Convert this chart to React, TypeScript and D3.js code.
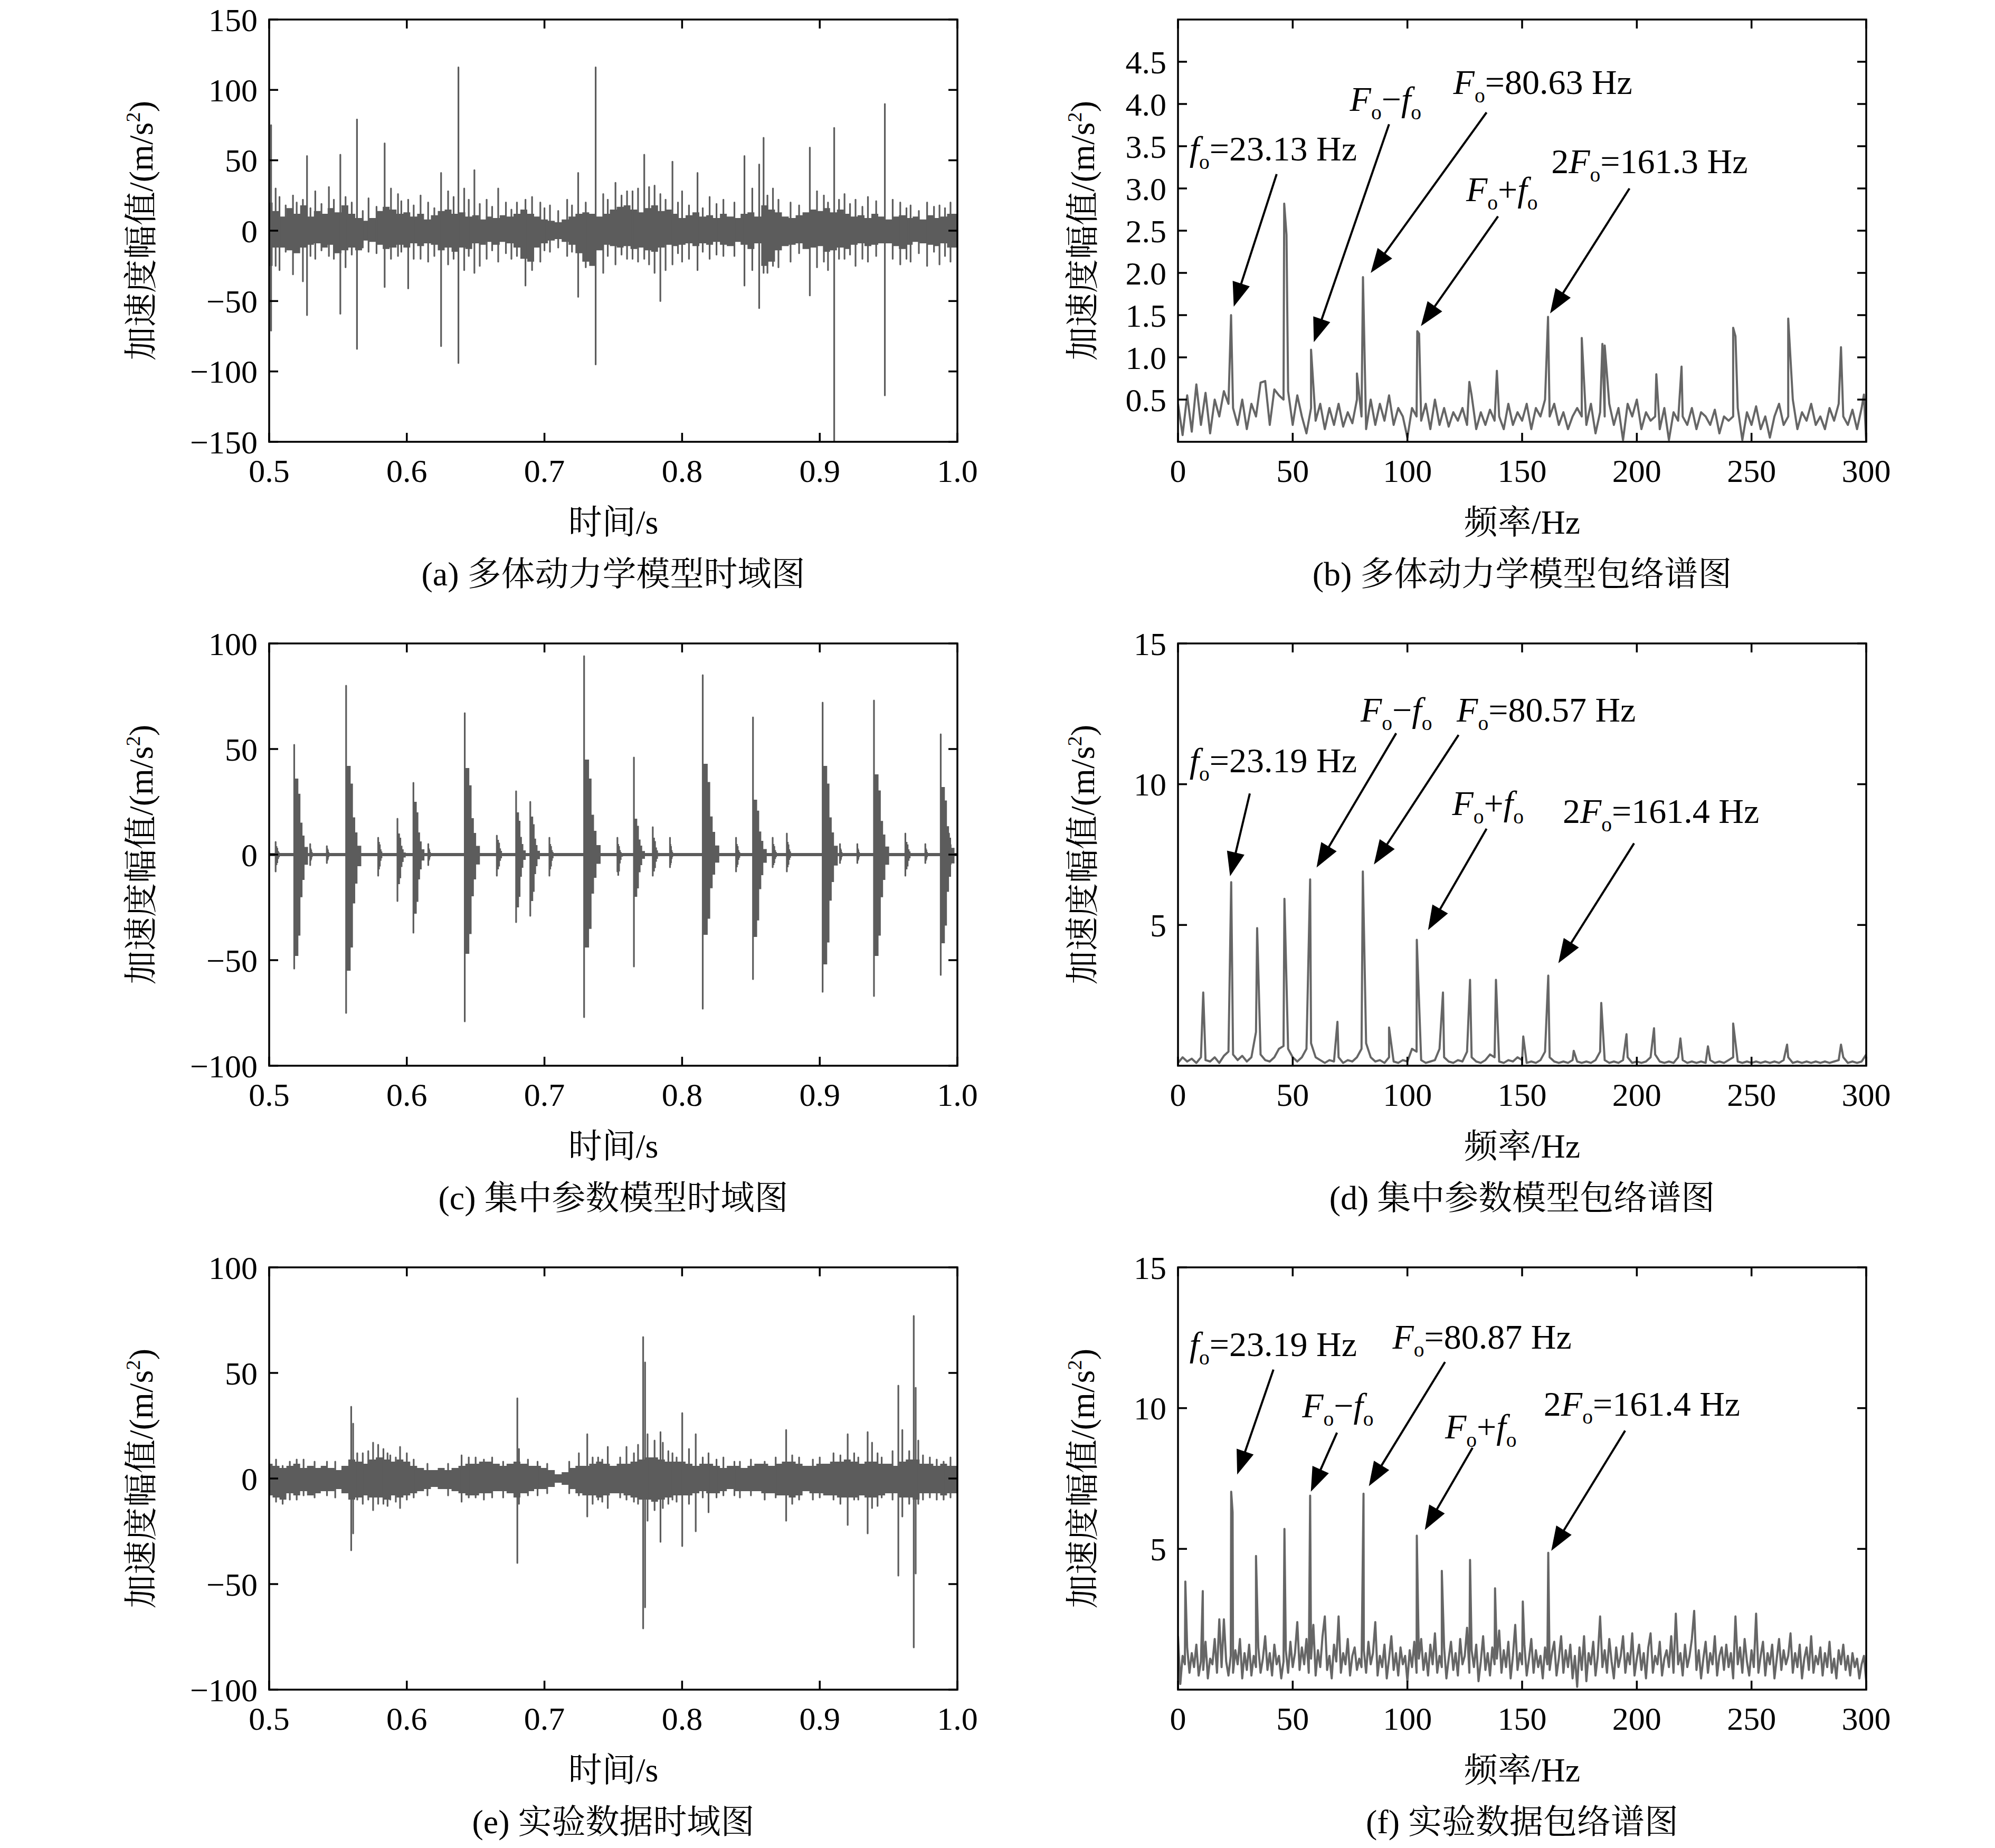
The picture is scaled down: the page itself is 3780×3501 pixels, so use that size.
import * as d3 from 'd3';

// ---- layout ----
const W = 3780;
const H = 3501;
const PW = 1304;
const PH = 800;
const COL_X = [510, 2232];
const ROW_Y = [37, 1219, 2401];
const FONT = "'Liberation Serif','Times New Roman','Noto Serif CJK SC','Noto Sans CJK SC',serif";
const TIME_COLOR = '#5c5c5c';
const SPEC_COLOR = '#666666';

// ---- ticks ----
const timeTicks = [0.5, 0.6, 0.7, 0.8, 0.9, 1.0];
const freqTicks = [0, 50, 100, 150, 200, 250, 300];
const aYTicks = [-150, -100, -50, 0, 50, 100, 150];
const ceYTicks = [-100, -50, 0, 50, 100];
const bYTicks = [0.5, 1.0, 1.5, 2.0, 2.5, 3.0, 3.5, 4.0, 4.5];
const dfYTicks = [5, 10, 15];

// ---- (a) multibody time signal: dense band [t, hi, lo] and spikes [t, hi, lo] ----
const aBand: [number, number, number][] = [
  [0.500, 20, -25], [0.505, 14, -12], [0.510, 10, -12], [0.515, 16, -14], [0.520, 12, -16],
  [0.525, 18, -12], [0.530, 10, -10], [0.535, 14, -9], [0.540, 12, -12], [0.545, 16, -10],
  [0.550, 13, -16], [0.555, 18, -14], [0.560, 12, -12], [0.565, 9, -14], [0.570, 7, -7],
  [0.575, 9, -8], [0.580, 14, -10], [0.585, 17, -13], [0.590, 15, -12], [0.595, 12, -10],
  [0.600, 13, -12], [0.605, 10, -9], [0.610, 12, -11], [0.615, 8, -9], [0.620, 11, -10],
  [0.625, 14, -14], [0.630, 15, -12], [0.635, 12, -15], [0.640, 13, -12], [0.645, 10, -13],
  [0.650, 11, -9], [0.655, 8, -10], [0.660, 10, -8], [0.665, 9, -10], [0.670, 11, -8],
  [0.675, 10, -9], [0.680, 12, -12], [0.685, 15, -20], [0.690, 12, -22], [0.695, 10, -12],
  [0.700, 8, -9], [0.705, 7, -7], [0.710, 6, -6], [0.715, 8, -8], [0.720, 10, -10],
  [0.725, 12, -16], [0.730, 13, -22], [0.735, 12, -25], [0.740, 10, -14], [0.745, 12, -10],
  [0.750, 15, -11], [0.755, 17, -12], [0.760, 18, -11], [0.765, 15, -13], [0.770, 13, -12],
  [0.775, 16, -14], [0.780, 18, -15], [0.785, 14, -12], [0.790, 15, -10], [0.795, 12, -11],
  [0.800, 9, -10], [0.805, 11, -9], [0.810, 13, -11], [0.815, 10, -9], [0.820, 11, -10],
  [0.825, 9, -8], [0.830, 12, -10], [0.835, 10, -11], [0.840, 9, -8], [0.845, 12, -10],
  [0.850, 13, -13], [0.855, 10, -9], [0.860, 18, -25], [0.865, 15, -22], [0.870, 13, -14],
  [0.875, 10, -11], [0.880, 9, -10], [0.885, 11, -9], [0.890, 13, -13], [0.895, 15, -12],
  [0.900, 14, -11], [0.905, 16, -15], [0.910, 13, -14], [0.915, 15, -12], [0.920, 12, -13],
  [0.925, 10, -10], [0.930, 11, -9], [0.935, 9, -11], [0.940, 12, -10], [0.945, 10, -9],
  [0.950, 8, -9], [0.955, 10, -11], [0.960, 11, -13], [0.965, 9, -10], [0.970, 10, -8],
  [0.975, 8, -9], [0.980, 11, -10], [0.985, 9, -11], [0.990, 10, -9], [0.995, 12, -12],
  [1.000, 12, -12],
];
const aSpikes: [number, number, number][] = [
  [0.5014, 75, -71], [0.5047, 30, -25], [0.5075, 24, -28], [0.5120, 18, -15], [0.5173, 25, -31],
  [0.5200, 20, -12], [0.5245, 22, -36], [0.5275, 53, -60], [0.5300, 16, -18], [0.5335, 28, -20],
  [0.5380, 19, -14], [0.5434, 31, -18], [0.5470, 22, -20], [0.5517, 54, -59], [0.5555, 24, -26],
  [0.5600, 20, -17], [0.5638, 79, -84], [0.5680, 14, -12], [0.5722, 23, -15], [0.5780, 17, -16],
  [0.5839, 62, -40], [0.5885, 30, -20], [0.5936, 26, -18], [0.5960, 21, -15], [0.6010, 22, -41],
  [0.6050, 18, -20], [0.6100, 25, -20], [0.6155, 20, -22], [0.6200, 16, -18], [0.6249, 41, -82],
  [0.6300, 28, -24], [0.6340, 24, -20], [0.6375, 116, -94], [0.6417, 30, -28], [0.6450, 22, -18],
  [0.6491, 43, -30], [0.6530, 19, -25], [0.6580, 22, -20], [0.6620, 17, -14], [0.6664, 30, -22],
  [0.6720, 20, -16], [0.6760, 15, -20], [0.6800, 20, -18], [0.6862, 22, -39], [0.6910, 24, -28],
  [0.6970, 20, -22], [0.7000, 16, -14], [0.7040, 18, -15], [0.7100, 14, -12], [0.7165, 22, -18],
  [0.7200, 18, -15], [0.7245, 41, -47], [0.7300, 20, -26], [0.7372, 116, -95], [0.7427, 26, -30],
  [0.7460, 22, -18], [0.7516, 34, -24], [0.7560, 25, -17], [0.7600, 28, -20], [0.7640, 28, -20],
  [0.7680, 30, -22], [0.7725, 54, -20], [0.7760, 31, -24], [0.7800, 32, -30], [0.7842, 26, -50],
  [0.7880, 22, -28], [0.7930, 49, -24], [0.7970, 20, -16], [0.8000, 28, -22], [0.8050, 18, -20],
  [0.8112, 41, -28], [0.8150, 16, -15], [0.8200, 24, -20], [0.8250, 19, -17], [0.8300, 22, -18],
  [0.8380, 20, -18], [0.8453, 53, -39], [0.8510, 30, -28], [0.8560, 47, -55], [0.8592, 66, -30],
  [0.8620, 25, -30], [0.8660, 30, -25], [0.8700, 22, -26], [0.8788, 20, -22], [0.8850, 18, -16],
  [0.8928, 59, -46], [0.8980, 28, -26], [0.9030, 25, -22], [0.9060, 20, -28], [0.9105, 73, -160],
  [0.9140, 22, -20], [0.9180, 26, -20], [0.9220, 19, -17], [0.9260, 22, -25], [0.9310, 17, -20],
  [0.9350, 24, -22], [0.9410, 21, -18], [0.9473, 90, -117], [0.9530, 22, -20], [0.9585, 20, -24],
  [0.9630, 16, -20], [0.9660, 18, -22], [0.9720, 14, -16], [0.9780, 20, -25], [0.9830, 17, -15],
  [0.9870, 18, -24], [0.9910, 16, -18], [0.9950, 20, -22],
];

// ---- (c) lumped model: bursts [t, peakHi, peakLo, envHi, envLo, decay(s)] ----
const cBursts: [number, number, number, number, number, number][] = [
  [0.5047, 6, -8, 4, -5, 0.004], [0.5182, 52, -54, 36, -48, 0.010], [0.5298, 5, -5, 3, -3, 0.003],
  [0.5419, 4, -4, 3, -3, 0.003], [0.5559, 80, -75, 42, -55, 0.011], [0.5792, 8, -10, 6, -7, 0.004],
  [0.5932, 17, -22, 10, -14, 0.006], [0.6048, 34, -37, 25, -28, 0.008], [0.6156, 5, -5, 3, -3, 0.003],
  [0.6421, 67, -79, 41, -47, 0.011], [0.6654, 9, -10, 7, -7, 0.005], [0.6794, 30, -32, 20, -25, 0.007],
  [0.6897, 25, -29, 18, -22, 0.007], [0.7036, 8, -10, 5, -7, 0.004], [0.7288, 94, -77, 45, -44, 0.012],
  [0.7530, 8, -8, 5, -10, 0.004], [0.7650, 46, -53, 17, -20, 0.008], [0.7787, 13, -10, 8, -8, 0.005],
  [0.7912, 8, -6, 5, -5, 0.003], [0.8150, 85, -73, 43, -38, 0.012], [0.8392, 8, -8, 5, -6, 0.004],
  [0.8515, 65, -59, 26, -39, 0.010], [0.8658, 8, -6, 5, -5, 0.004], [0.8761, 10, -8, 6, -6, 0.004],
  [0.9021, 72, -65, 42, -52, 0.011], [0.9147, 5, -4, 3, -3, 0.003], [0.9273, 5, -4, 3, -3, 0.003],
  [0.9394, 73, -67, 38, -48, 0.011], [0.9622, 10, -10, 6, -7, 0.005], [0.9767, 5, -4, 3, -3, 0.003],
  [0.9879, 57, -57, 32, -42, 0.010], [0.9939, 10, -8, 6, -6, 0.004],
];
// staircase decay of a burst: [fraction of decay time, fraction of envelope]
const burstSteps: [number, number][] = [[0, 1], [0.3, 0.8], [0.45, 0.42], [0.6, 0.25], [0.75, 0.1], [1, 0]];

// ---- (e) experiment time signal ----
const eBand: [number, number, number][] = [
  [0.500, 7, -8], [0.505, 6, -9], [0.510, 5, -10], [0.515, 6, -7], [0.520, 7, -8],
  [0.525, 5, -6], [0.530, 6, -8], [0.535, 5, -7], [0.540, 6, -6], [0.545, 5, -6],
  [0.550, 4, -5], [0.555, 6, -7], [0.560, 9, -10], [0.565, 8, -9], [0.570, 7, -8],
  [0.575, 9, -9], [0.580, 10, -9], [0.585, 9, -10], [0.590, 8, -8], [0.595, 9, -9],
  [0.600, 8, -8], [0.605, 6, -7], [0.610, 5, -6], [0.615, 4, -5], [0.620, 4, -4],
  [0.625, 5, -5], [0.630, 4, -5], [0.635, 5, -6], [0.640, 6, -7], [0.645, 7, -8],
  [0.650, 7, -8], [0.655, 8, -7], [0.660, 8, -7], [0.665, 7, -6], [0.670, 6, -6],
  [0.675, 7, -7], [0.680, 8, -9], [0.685, 7, -7], [0.690, 6, -6], [0.695, 6, -5],
  [0.700, 5, -5], [0.705, 4, -4], [0.710, 2, -2], [0.715, 3, -3], [0.720, 5, -5],
  [0.725, 6, -7], [0.730, 6, -8], [0.735, 7, -8], [0.740, 8, -9], [0.745, 7, -8],
  [0.750, 6, -7], [0.755, 7, -7], [0.760, 7, -8], [0.765, 8, -9], [0.770, 9, -10],
  [0.775, 10, -10], [0.780, 10, -11], [0.785, 9, -10], [0.790, 8, -9], [0.795, 8, -8],
  [0.800, 8, -8], [0.805, 7, -8], [0.810, 6, -7], [0.815, 7, -6], [0.820, 7, -7],
  [0.825, 6, -7], [0.830, 5, -6], [0.835, 6, -5], [0.840, 6, -6], [0.845, 5, -6],
  [0.850, 6, -6], [0.855, 7, -6], [0.860, 7, -7], [0.865, 6, -7], [0.870, 7, -8],
  [0.875, 8, -8], [0.880, 8, -9], [0.885, 7, -8], [0.890, 6, -6], [0.895, 6, -7],
  [0.900, 7, -7], [0.905, 7, -8], [0.910, 8, -8], [0.915, 8, -9], [0.920, 9, -9],
  [0.925, 8, -9], [0.930, 7, -8], [0.935, 8, -9], [0.940, 8, -9], [0.945, 7, -8],
  [0.950, 7, -7], [0.955, 6, -7], [0.960, 8, -9], [0.965, 9, -9], [0.970, 9, -10],
  [0.975, 7, -7], [0.980, 7, -7], [0.985, 6, -7], [0.990, 7, -8], [0.995, 6, -7],
  [1.000, 6, -7],
];
const eSpikes: [number, number, number][] = [
  [0.5050, 9, -11], [0.5098, 6, -12], [0.5150, 8, -10], [0.5200, 9, -10], [0.5250, 9, -8],
  [0.5330, 8, -9], [0.5420, 8, -8], [0.5480, 8, -9], [0.5596, 34, -34], [0.5610, 26, -26],
  [0.5640, 12, -10], [0.5680, 12, -12], [0.5720, 13, -10], [0.5755, 17, -15], [0.5792, 16, -12],
  [0.5830, 14, -12], [0.5860, 12, -13], [0.5880, 11, -10], [0.5920, 10, -11], [0.5951, 15, -14],
  [0.6000, 12, -10], [0.6050, 9, -9], [0.6150, 7, -8], [0.6300, 7, -8], [0.6398, 11, -11],
  [0.6450, 10, -9], [0.6500, 10, -9], [0.6560, 9, -10], [0.6620, 10, -9], [0.6700, 8, -9],
  [0.6803, 38, -40], [0.6815, 14, -12], [0.6880, 9, -8], [0.6950, 8, -8], [0.7020, 7, -7],
  [0.7180, 8, -7], [0.7250, 12, -8], [0.7311, 21, -18], [0.7350, 10, -12], [0.7390, 10, -10],
  [0.7420, 9, -11], [0.7460, 15, -14], [0.7550, 10, -9], [0.7596, 15, -10], [0.7650, 12, -11],
  [0.7680, 16, -12], [0.7717, 67, -71], [0.7731, 55, -61], [0.7749, 21, -20], [0.7800, 18, -15],
  [0.7843, 22, -30], [0.7860, 17, -14], [0.7900, 13, -12], [0.7930, 12, -10], [0.7960, 10, -11],
  [0.8001, 31, -32], [0.8050, 14, -12], [0.8099, 21, -25], [0.8150, 10, -9], [0.8192, 12, -16],
  [0.8250, 9, -9], [0.8300, 10, -8], [0.8380, 8, -8], [0.8420, 8, -9], [0.8500, 9, -8],
  [0.8600, 8, -10], [0.8680, 10, -9], [0.8756, 23, -20], [0.8800, 11, -12], [0.8850, 10, -10],
  [0.8950, 9, -10], [0.9000, 10, -9], [0.9100, 12, -10], [0.9150, 11, -12], [0.9203, 21, -22],
  [0.9250, 12, -10], [0.9280, 10, -10], [0.9348, 22, -26], [0.9380, 17, -14], [0.9420, 12, -13],
  [0.9450, 10, -9], [0.9529, 13, -10], [0.9571, 44, -46], [0.9600, 23, -18], [0.9650, 13, -12],
  [0.9683, 77, -80], [0.9697, 43, -45], [0.9716, 18, -12], [0.9750, 11, -10], [0.9800, 10, -9],
  [0.9850, 9, -10], [0.9900, 8, -10], [0.9950, 10, -9],
];

// ---- spectra: noise floor on a regular grid + discrete peaks [Hz, amp] ----
const bStep = 2;
const bNoise = [
  0.45, 0.08, 0.55, 0.12, 0.68, 0.20, 0.58, 0.10, 0.50, 0.30,
  0.60, 0.45, 0.40, 0.20, 0.50, 0.15, 0.45, 0.30, 0.70, 0.72,
  0.20, 0.62, 0.55, 0.50, 0.60, 0.20, 0.55, 0.30, 0.10, 0.40,
  0.25, 0.45, 0.15, 0.40, 0.20, 0.45, 0.18, 0.35, 0.22, 0.50,
  0.30, 0.15, 0.50, 0.20, 0.45, 0.25, 0.55, 0.20, 0.40, 0.30,
  0.05, 0.40, 0.30, 0.25, 0.45, 0.15, 0.50, 0.20, 0.40, 0.18,
  0.35, 0.25, 0.40, 0.20, 0.55, 0.15, 0.35, 0.20, 0.38, 0.25,
  0.30, 0.15, 0.45, 0.20, 0.35, 0.25, 0.45, 0.15, 0.40, 0.30,
  0.50, 0.30, 0.45, 0.20, 0.35, 0.15, 0.30, 0.40, 0.30, 0.20,
  0.45, 0.10, 0.35, 0.30, 0.45, 0.20, 0.40, 0.02, 0.45, 0.30,
  0.50, 0.15, 0.35, 0.25, 0.30, 0.15, 0.40, 0.02, 0.35, 0.25,
  0.30, 0.20, 0.40, 0.15, 0.35, 0.30, 0.20, 0.38, 0.10, 0.30,
  0.25, 0.30, 0.40, 0.02, 0.35, 0.20, 0.42, 0.15, 0.30, 0.05,
  0.30, 0.45, 0.20, 0.30, 0.50, 0.15, 0.35, 0.25, 0.45, 0.20,
  0.30, 0.15, 0.40, 0.25, 0.45, 0.30, 0.20, 0.38, 0.15, 0.40,
  0.00,
];
const bPeaks: [number, number][] = [
  [23.13, 1.50], [46.3, 2.82], [47.3, 2.45], [58.0, 1.09], [78.0, 0.81], [80.63, 1.95],
  [104.3, 1.31], [105.1, 1.28], [127.0, 0.71], [139.0, 0.84], [161.3, 1.48], [176.0, 1.23],
  [185.0, 1.16], [186.0, 1.14], [208.5, 0.80], [219.5, 0.89], [242.0, 1.35], [243.0, 1.25],
  [266.0, 1.46], [289.0, 1.12], [299.0, 0.56],
];

const dStep = 2;
const dNoise = [
  0.10, 0.30, 0.15, 0.25, 0.10, 0.30, 0.20, 0.15, 0.30, 0.10,
  0.35, 0.50, 0.40, 0.20, 0.35, 0.15, 0.30, 1.20, 0.40, 0.20,
  0.15, 0.30, 0.60, 0.70, 0.60, 0.30, 0.15, 0.30, 0.60, 0.80,
  0.30, 0.20, 0.10, 0.20, 0.15, 0.30, 0.10, 0.20, 0.15, 0.30,
  0.60, 0.80, 0.30, 0.15, 0.20, 0.10, 0.30, 0.15, 0.10, 0.20,
  0.15, 0.60, 0.50, 0.20, 0.10, 0.15, 0.20, 0.60, 0.30, 0.15,
  0.10, 0.20, 0.15, 0.50, 0.30, 0.15, 0.10, 0.20, 0.40, 0.30,
  0.15, 0.10, 0.20, 0.15, 0.30, 0.20, 0.10, 0.15, 0.10, 0.20,
  0.50, 0.30, 0.15, 0.10, 0.15, 0.10, 0.20, 0.15, 0.10, 0.15,
  0.10, 0.20, 0.50, 0.20, 0.10, 0.15, 0.10, 0.20, 0.30, 0.10,
  0.15, 0.10, 0.15, 0.30, 0.40, 0.15, 0.10, 0.15, 0.10, 0.30,
  0.20, 0.10, 0.15, 0.10, 0.15, 0.10, 0.20, 0.10, 0.15, 0.10,
  0.20, 0.30, 0.15, 0.10, 0.15, 0.10, 0.15, 0.10, 0.15, 0.10,
  0.15, 0.10, 0.20, 0.30, 0.10, 0.15, 0.10, 0.15, 0.10, 0.15,
  0.10, 0.15, 0.10, 0.15, 0.20, 0.30, 0.10, 0.15, 0.10, 0.15,
  0.40,
];
const dPeaks: [number, number][] = [
  [11.0, 2.60], [23.19, 6.52], [34.5, 4.89], [46.4, 5.93], [57.6, 6.62], [69.5, 1.56],
  [80.57, 6.90], [92.0, 1.36], [104.1, 4.47], [115.5, 2.60], [127.3, 3.05], [138.6, 3.05],
  [150.5, 1.04], [161.4, 3.20], [172.5, 0.53], [184.5, 2.23], [195.5, 1.12], [207.5, 1.33],
  [219.0, 0.97], [231.0, 0.69], [242.0, 1.50], [265.5, 0.75], [289.0, 0.75],
];

const fStep = 1;
const fNoise = [
  1.9, 0.2, 1.2, 0.9, 1.5, 0.6, 1.3, 0.8, 1.6, 0.5,
  1.0, 0.7, 1.7, 0.4, 1.1, 0.9, 1.8, 0.6, 2.5, 0.8,
  2.5, 1.0, 0.5, 1.2, 0.6, 1.4, 0.9, 1.8, 0.4, 1.3,
  0.7, 1.6, 0.5, 1.2, 0.8, 1.5, 0.6, 1.1, 1.9, 0.7,
  1.3, 0.5, 1.6, 0.9, 1.2, 0.4, 1.0, 1.4, 0.6, 1.7,
  0.8, 1.3, 2.4, 0.7, 1.5, 0.9, 1.8, 0.6, 1.1, 2.3,
  0.5, 1.4, 0.8, 1.9, 2.6, 0.7, 1.2, 0.4, 1.6, 1.0,
  2.6, 0.6, 1.3, 0.9, 1.8, 0.5, 1.2, 1.5, 0.7, 1.1,
  0.8, 1.4, 0.6, 1.7, 0.9, 1.3, 2.4, 0.5, 1.2, 0.8,
  1.6, 0.4, 1.1, 1.9, 0.7, 1.3, 0.5, 1.5, 0.9, 1.2,
  0.3, 1.4, 0.8, 1.7, 0.6, 1.1, 1.8, 0.7, 1.3, 0.5,
  1.6, 0.9, 2.0, 0.6, 1.2, 0.8, 1.5, 0.4, 1.1, 1.7,
  0.7, 1.3, 0.5, 1.8, 0.9, 1.2, 2.2, 0.6, 1.4, 0.8,
  1.6, 0.3, 1.0, 1.9, 0.7, 1.3, 0.5, 1.5, 0.9, 1.1,
  2.1, 0.6, 1.4, 0.8, 1.7, 0.4, 1.2, 2.3, 0.7, 1.3,
  0.9, 1.6, 0.5, 1.1, 1.8, 0.6, 1.4, 0.8, 1.2, 0.4,
  1.5, 0.9, 0.7, 1.3, 1.7, 0.5, 1.1, 1.9, 0.6, 1.4,
  0.8, 1.6, 0.4, 1.2, 0.1, 1.5, 0.7, 1.9, 0.3, 1.3,
  0.9, 1.7, 0.5, 1.2, 2.6, 0.8, 1.4, 0.6, 1.8, 1.0,
  0.4, 1.5, 0.8, 1.2, 1.9, 0.6, 1.3, 0.9, 2.0, 0.5,
  1.1, 1.6, 0.7, 1.3, 0.4, 1.5, 2.0, 0.6, 1.2, 0.9,
  1.7, 0.5, 1.1, 1.4, 0.8, 1.9, 0.6, 2.7, 0.9, 1.3,
  0.5, 1.6, 0.8, 1.2, 1.8, 2.8, 0.7, 1.4, 0.4, 1.1,
  1.7, 0.6, 1.3, 0.9, 1.9, 0.5, 1.2, 1.5, 0.7, 1.6,
  0.8, 1.3, 0.4, 2.6, 0.9, 1.5, 0.6, 1.8, 1.0, 0.5,
  1.4, 0.8, 2.7, 0.6, 1.2, 1.7, 0.5, 1.3, 0.9, 1.6,
  0.4, 1.1, 1.8, 0.7, 1.4, 0.9, 1.2, 2.0, 0.6, 1.3,
  0.8, 1.6, 0.4, 1.1, 1.5, 0.7, 1.9, 0.6, 1.2, 0.9,
  1.5, 0.5, 1.3, 0.8, 1.7, 0.6, 1.1, 0.4, 1.4, 0.9,
  1.6, 0.7, 1.2, 0.5, 1.3, 0.8, 1.1, 0.4, 0.9, 1.2,
  0.3,
];
const fPeaks: [number, number][] = [
  [3.2, 3.84], [10.8, 3.50], [23.19, 7.03], [23.8, 6.30], [34.0, 4.75], [46.4, 5.71],
  [57.6, 6.89], [80.87, 6.96], [104.1, 5.47], [115.0, 4.22], [127.3, 4.61], [138.2, 3.60],
  [150.3, 3.13], [161.4, 4.86],
];

// ---- annotations: text segments (n normal, i italic, s subscript), text anchor, arrow from/to ----
type Seg = [string, 'n' | 'i' | 's'];
interface Note { segs: Seg[]; at: [number, number]; from: [number, number]; to: [number, number]; }

const fLabel = (v: string): Seg[] => [['f', 'i'], ['o', 's'], [`=${v} Hz`, 'n']];
const FLabel = (v: string): Seg[] => [['F', 'i'], ['o', 's'], [`=${v} Hz`, 'n']];
const minusLabel: Seg[] = [['F', 'i'], ['o', 's'], ['−', 'n'], ['f', 'i'], ['o', 's']];
const plusLabel: Seg[] = [['F', 'i'], ['o', 's'], ['+', 'n'], ['f', 'i'], ['o', 's']];
const twoFLabel = (v: string): Seg[] => [['2', 'n'], ['F', 'i'], ['o', 's'], [`=${v} Hz`, 'n']];

const bNotes: Note[] = [
  { segs: fLabel('23.13'), at: [5, 3.33], from: [43.0, 3.17], to: [24.3, 1.60] },
  { segs: minusLabel, at: [74.9, 3.92], from: [92.0, 3.76], to: [59.2, 1.18] },
  { segs: FLabel('80.63'), at: [120.0, 4.12], from: [134.5, 3.90], to: [84.0, 2.00] },
  { segs: plusLabel, at: [125.6, 2.85], from: [139.5, 2.67], to: [105.9, 1.37] },
  { segs: twoFLabel('161.3'), at: [162.7, 3.18], from: [196.8, 3.00], to: [162.2, 1.52] },
];
const dNotes: Note[] = [
  { segs: fLabel('23.19'), at: [5, 10.43], from: [31.3, 9.67], to: [22.7, 6.73] },
  { segs: minusLabel, at: [79.6, 12.23], from: [95.1, 11.81], to: [60.4, 7.04] },
  { segs: FLabel('80.57'), at: [121.5, 12.23], from: [122.3, 11.75], to: [85.4, 7.15] },
  { segs: plusLabel, at: [119.5, 8.90], from: [134.5, 8.42], to: [109.0, 4.82] },
  { segs: twoFLabel('161.4'), at: [167.7, 8.63], from: [198.8, 7.90], to: [165.8, 3.64] },
];
const fNotes: Note[] = [
  { segs: fLabel('23.19'), at: [5, 11.85], from: [41.6, 11.37], to: [25.8, 7.64] },
  { segs: minusLabel, at: [54.1, 9.67], from: [69.3, 9.13], to: [57.9, 7.03] },
  { segs: FLabel('80.87'), at: [93.5, 12.12], from: [116.4, 11.64], to: [83.2, 7.23] },
  { segs: plusLabel, at: [116.4, 8.93], from: [128.4, 8.59], to: [107.6, 5.67] },
  { segs: twoFLabel('161.4'), at: [159.4, 9.74], from: [194.9, 9.20], to: [162.7, 4.93] },
];

const captions = [
  '(a) 多体动力学模型时域图', '(b) 多体动力学模型包络谱图',
  '(c) 集中参数模型时域图', '(d) 集中参数模型包络谱图',
  '(e) 实验数据时域图', '(f) 实验数据包络谱图',
];

// ---- helpers ----
const signed = (v: number) => (v < 0 ? `−${Math.abs(v)}` : `${v}`);
const fmt1 = d3.format('.1f');

function specPoints(noise: number[], step: number, peaks: [number, number][]) {
  const pts: [number, number][] = noise.map((v, i) => [i * step, v]);
  return pts.concat(peaks).sort((p, q) => p[0] - q[0]);
}

function RichText({ x, y, segs, size }: { x: number; y: number; segs: Seg[]; size: number }) {
  let shift = 0;
  const sub = size * 0.24;
  return (
    <text x={x} y={y} fontSize={size}>
      {segs.map(([t, k], i) => {
        let dy = 0;
        if (k === 's') { dy = sub - shift; shift = sub; }
        else if (shift) { dy = -shift; shift = 0; }
        return (
          <tspan key={i} dy={dy} fontStyle={k === 'i' ? 'italic' : 'normal'} fontSize={k === 's' ? size * 0.6 : size}>
            {t}
          </tspan>
        );
      })}
    </text>
  );
}

function Arrow({ x1, y1, x2, y2 }: { x1: number; y1: number; x2: number; y2: number }) {
  const dx = x2 - x1, dy = y2 - y1;
  const len = Math.hypot(dx, dy);
  const ux = dx / len, uy = dy / len;
  const hl = 46, hw = 17;
  const bx = x2 - ux * hl, by = y2 - uy * hl;
  const head = [[x2, y2], [bx - uy * hw, by + ux * hw], [bx + uy * hw, by - ux * hw]];
  return (
    <g>
      <line x1={x1} y1={y1} x2={bx + ux * 4} y2={by + uy * 4} stroke="#000" strokeWidth={4} />
      <polygon points={head.map(p => p.join(',')).join(' ')} fill="#000" />
    </g>
  );
}

interface PanelProps {
  id: string;
  x0: number;
  y0: number;
  xDomain: [number, number];
  yDomain: [number, number];
  xTicks: number[];
  yTicks: number[];
  xFmt: (v: number) => string;
  yFmt: (v: number) => string;
  xTitle: string;
  caption: string;
  yTitleOffset: number;
  children: (x: d3.ScaleLinear<number, number>, y: d3.ScaleLinear<number, number>) => any;
}

function Panel(p: PanelProps) {
  const x = d3.scaleLinear().domain(p.xDomain).range([0, PW]);
  const y = d3.scaleLinear().domain(p.yDomain).range([PH, 0]);
  const tl = 17;
  const fs = 62;
  const ts = 64;
  return (
    <g transform={`translate(${p.x0},${p.y0})`}>
      <defs>
        <clipPath id={p.id}><rect x={0} y={0} width={PW} height={PH} /></clipPath>
      </defs>
      <g clipPath={`url(#${p.id})`}>{p.children(x, y)}</g>
      <rect x={0} y={0} width={PW} height={PH} fill="none" stroke="#000" strokeWidth={3.5} />
      {p.xTicks.map(v => (
        <g key={`x${v}`}>
          <line x1={x(v)} x2={x(v)} y1={PH} y2={PH - tl} stroke="#000" strokeWidth={3.5} />
          <line x1={x(v)} x2={x(v)} y1={0} y2={tl} stroke="#000" strokeWidth={3.5} />
          <text x={x(v)} y={PH + 54} dy="0.35em" textAnchor="middle" fontSize={fs}>{p.xFmt(v)}</text>
        </g>
      ))}
      {p.yTicks.map(v => (
        <g key={`y${v}`}>
          <line x1={0} x2={tl} y1={y(v)} y2={y(v)} stroke="#000" strokeWidth={3.5} />
          <line x1={PW} x2={PW - tl} y1={y(v)} y2={y(v)} stroke="#000" strokeWidth={3.5} />
          <text x={-22} y={y(v)} dy="0.35em" textAnchor="end" fontSize={fs}>{p.yFmt(v)}</text>
        </g>
      ))}
      <text x={PW / 2} y={PH + 152} dy="0.35em" textAnchor="middle" fontSize={ts}>{p.xTitle}</text>
      <text x={PW / 2} y={PH + 250} dy="0.35em" textAnchor="middle" fontSize={ts}>{p.caption}</text>
      <text transform={`translate(${-p.yTitleOffset},${PH / 2}) rotate(-90)`} y={ts * 0.35} textAnchor="middle" fontSize={ts}>
        加速度幅值/(m/s<tspan dy={-ts * 0.38} fontSize={ts * 0.6}>2</tspan><tspan dy={ts * 0.38}>)</tspan>
      </text>
    </g>
  );
}

function TimeMarks({ x, y, band, spikes }: {
  x: d3.ScaleLinear<number, number>; y: d3.ScaleLinear<number, number>;
  band: [number, number, number][]; spikes: [number, number, number][];
}) {
  const area = d3.area<[number, number, number]>()
    .curve(d3.curveStep)
    .x(d => x(d[0])).y0(d => y(d[2])).y1(d => y(d[1]));
  return (
    <g>
      <path d={area(band) || ''} fill={TIME_COLOR} />
      {spikes.map((s, i) => (
        <line key={i} x1={x(s[0])} x2={x(s[0])} y1={y(s[1])} y2={y(s[2])} stroke={TIME_COLOR} strokeWidth={3.2} strokeLinecap="round" />
      ))}
    </g>
  );
}

function BurstMarks({ x, y, bursts }: {
  x: d3.ScaleLinear<number, number>; y: d3.ScaleLinear<number, number>;
  bursts: [number, number, number, number, number, number][];
}) {
  return (
    <g>
      <line x1={0} x2={PW} y1={y(0)} y2={y(0)} stroke={TIME_COLOR} strokeWidth={6} />
      {bursts.map(([t, ph, pl, eh, el, dcy], i) => {
        const area = d3.area<[number, number]>()
          .curve(d3.curveStepAfter)
          .x(d => x(t + d[0] * dcy)).y0(d => y(el * d[1])).y1(d => y(eh * d[1]));
        return (
          <g key={i}>
            <path d={area(burstSteps) || ''} fill={TIME_COLOR} />
            <line x1={x(t)} x2={x(t)} y1={y(ph)} y2={y(pl)} stroke={TIME_COLOR} strokeWidth={3.2} strokeLinecap="round" />
          </g>
        );
      })}
    </g>
  );
}

function SpecMarks({ x, y, pts, notes }: {
  x: d3.ScaleLinear<number, number>; y: d3.ScaleLinear<number, number>;
  pts: [number, number][]; notes: Note[];
}) {
  const line = d3.line<[number, number]>().x(d => x(d[0])).y(d => y(d[1]));
  return (
    <g>
      <path d={line(pts) || ''} fill="none" stroke={SPEC_COLOR} strokeWidth={4} strokeLinejoin="round" />
      {notes.map((n, i) => (
        <g key={i}>
          <RichText x={x(n.at[0])} y={y(n.at[1])} segs={n.segs} size={66} />
          <Arrow x1={x(n.from[0])} y1={y(n.from[1])} x2={x(n.to[0])} y2={y(n.to[1])} />
        </g>
      ))}
    </g>
  );
}

export default function App() {
  const bPts = specPoints(bNoise, bStep, bPeaks);
  const dPts = specPoints(dNoise, dStep, dPeaks);
  const fPts = specPoints(fNoise, fStep, fPeaks);
  const timeCommon = {
    xDomain: [0.5, 1.0] as [number, number], xTicks: timeTicks, xFmt: fmt1, yFmt: signed,
    xTitle: '时间/s', yTitleOffset: 243,
  };
  const specCommon = {
    xDomain: [0, 300] as [number, number], xTicks: freqTicks, xFmt: (v: number) => `${v}`,
    xTitle: '频率/Hz', yTitleOffset: 181,
  };
  return (
    <svg width={W} height={H} viewBox={`0 0 ${W} ${H}`}
      style={{ position: 'absolute', left: 0, top: 0, background: '#fff' }}
      fontFamily={FONT} fill="#000">
      <rect x={0} y={0} width={W} height={H} fill="#fff" />
      <Panel id="clipA" x0={COL_X[0]} y0={ROW_Y[0]} {...timeCommon} yDomain={[-150, 150]} yTicks={aYTicks} caption={captions[0]}>
        {(x, y) => <TimeMarks x={x} y={y} band={aBand} spikes={aSpikes} />}
      </Panel>
      <Panel id="clipB" x0={COL_X[1]} y0={ROW_Y[0]} {...specCommon} yDomain={[0, 5]} yTicks={bYTicks} yFmt={fmt1} caption={captions[1]}>
        {(x, y) => <SpecMarks x={x} y={y} pts={bPts} notes={bNotes} />}
      </Panel>
      <Panel id="clipC" x0={COL_X[0]} y0={ROW_Y[1]} {...timeCommon} yDomain={[-100, 100]} yTicks={ceYTicks} caption={captions[2]}>
        {(x, y) => <BurstMarks x={x} y={y} bursts={cBursts} />}
      </Panel>
      <Panel id="clipD" x0={COL_X[1]} y0={ROW_Y[1]} {...specCommon} yDomain={[0, 15]} yTicks={dfYTicks} yFmt={(v: number) => `${v}`} caption={captions[3]}>
        {(x, y) => <SpecMarks x={x} y={y} pts={dPts} notes={dNotes} />}
      </Panel>
      <Panel id="clipE" x0={COL_X[0]} y0={ROW_Y[2]} {...timeCommon} yDomain={[-100, 100]} yTicks={ceYTicks} caption={captions[4]}>
        {(x, y) => <TimeMarks x={x} y={y} band={eBand} spikes={eSpikes} />}
      </Panel>
      <Panel id="clipF" x0={COL_X[1]} y0={ROW_Y[2]} {...specCommon} yDomain={[0, 15]} yTicks={dfYTicks} yFmt={(v: number) => `${v}`} caption={captions[5]}>
        {(x, y) => <SpecMarks x={x} y={y} pts={fPts} notes={fNotes} />}
      </Panel>
    </svg>
  );
}
